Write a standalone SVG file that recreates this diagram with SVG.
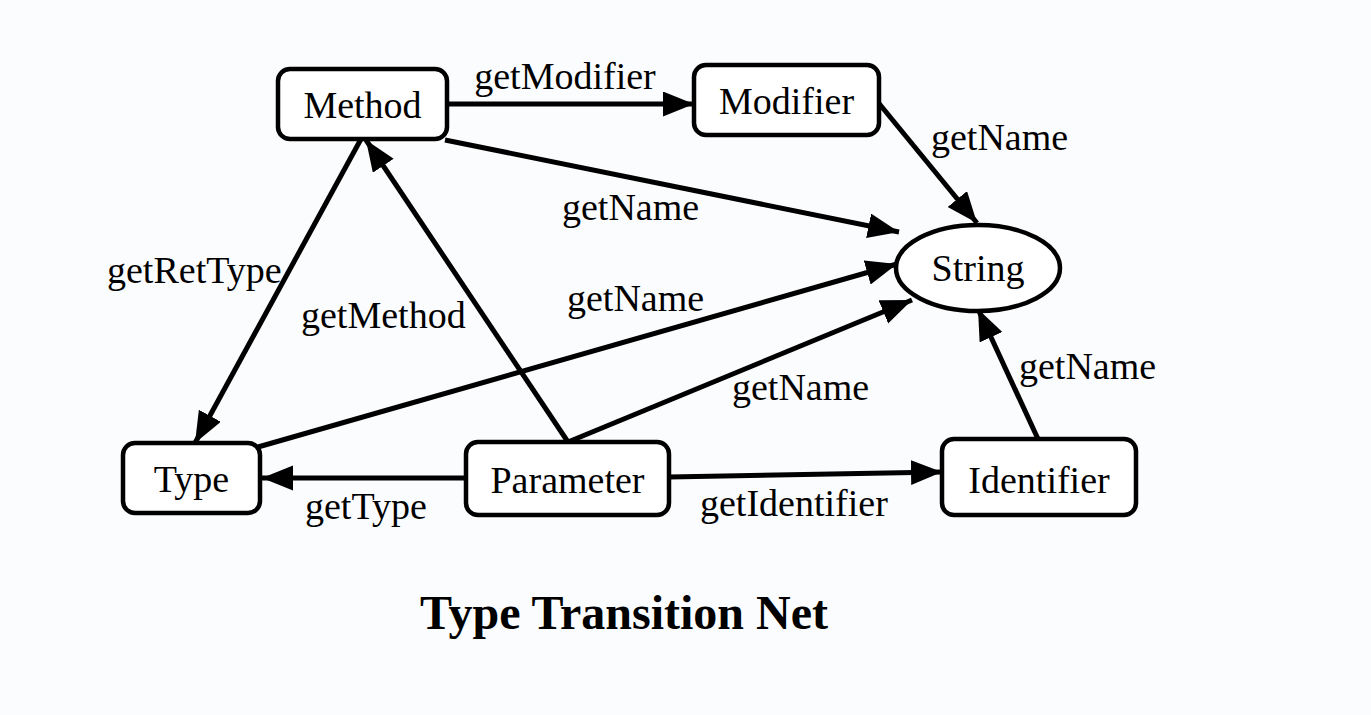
<svg xmlns="http://www.w3.org/2000/svg" width="1371" height="715" viewBox="0 0 1371 715">
<style>
.node{fill:#ffffff;stroke:#000;stroke-width:4.5}
.lbl{font-family:"Liberation Serif","Times New Roman",serif;font-size:38px;fill:#000}
.c{text-anchor:middle}
.edge{stroke:#000;stroke-width:5;fill:none;marker-end:url(#ah)}
.title{font-family:"Liberation Serif","Times New Roman",serif;font-size:48px;font-weight:bold;text-anchor:middle;fill:#000}
</style>
<defs>
<marker id="ah" markerUnits="userSpaceOnUse" markerWidth="34" markerHeight="28" refX="31" refY="12.5" orient="auto">
<path d="M0,0 L31,12.5 L0,25 z" fill="#000"/>
</marker>
</defs>
<rect width="1371" height="715" fill="#fbfcfe"/>
<g id="connectors">
<line class="edge" x1="447" y1="104" x2="694" y2="104"/>
<line class="edge" x1="877" y1="101" x2="977" y2="223"/>
<line class="edge" x1="445" y1="140" x2="899" y2="232"/>
<line class="edge" x1="361" y1="139" x2="195" y2="443"/>
<line class="edge" x1="568" y1="442" x2="366" y2="140"/>
<line class="edge" x1="258" y1="447" x2="897" y2="264"/>
<line class="edge" x1="568" y1="442" x2="912" y2="300"/>
<line class="edge" x1="466" y1="478" x2="262" y2="478"/>
<line class="edge" x1="669" y1="477" x2="942" y2="472"/>
<line class="edge" x1="1038" y1="439" x2="978" y2="309"/>
<text class="lbl c" x="565" y="89">getModifier</text>
<text class="lbl" x="931" y="150">getName</text>
<text class="lbl" x="562" y="220">getName</text>
<text class="lbl" x="107" y="283">getRetType</text>
<text class="lbl" x="301" y="328">getMethod</text>
<text class="lbl" x="567" y="311">getName</text>
<text class="lbl" x="732" y="400">getName</text>
<text class="lbl" x="305" y="519">getType</text>
<text class="lbl" x="700" y="516">getIdentifier</text>
<text class="lbl" x="1019" y="379">getName</text>
</g>
<g id="Method"><rect class="node" x="278" y="69" width="169" height="70" rx="12"/><text class="lbl c" x="362.5" y="118">Method</text></g>
<g id="Modifier"><rect class="node" x="694" y="65" width="185" height="70" rx="12"/><text class="lbl c" x="786.5" y="114">Modifier</text></g>
<g id="String"><ellipse class="node" cx="978" cy="268" rx="82" ry="43"/><text class="lbl c" x="978" y="281">String</text></g>
<g id="Type"><rect class="node" x="123" y="443" width="137" height="70" rx="12"/><text class="lbl c" x="191.5" y="492">Type</text></g>
<g id="Parameter"><rect class="node" x="466" y="442" width="203" height="73" rx="12"/><text class="lbl c" x="567.5" y="493">Parameter</text></g>
<g id="Identifier"><rect class="node" x="942" y="439" width="194" height="76" rx="12"/><text class="lbl c" x="1039" y="493">Identifier</text></g>
<text class="title" x="624" y="629">Type Transition Net</text>
</svg>
